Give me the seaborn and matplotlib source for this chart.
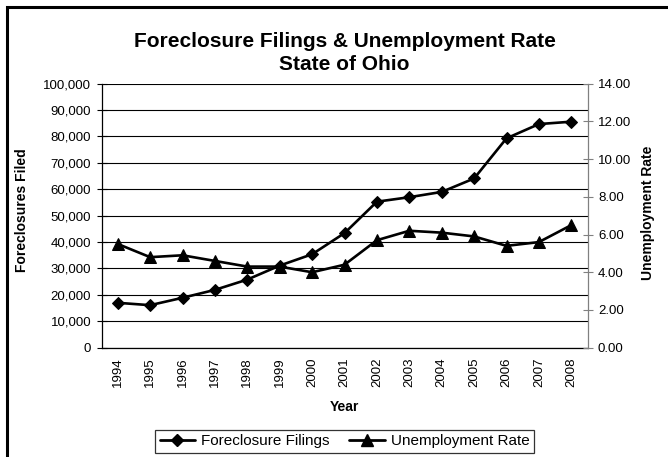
import matplotlib
matplotlib.use("Agg")
import matplotlib.pyplot as plt
import seaborn as sns
import pandas as pd
from matplotlib.ticker import FuncFormatter, MultipleLocator, FixedLocator
from matplotlib.lines import Line2D
from matplotlib.patches import Rectangle

years = list(range(1994, 2009))
foreclosures = [17000, 16100, 18900, 21900, 25800, 31100, 35400, 43400,
                55300, 57000, 59000, 64100, 79300, 84700, 85600]
unemployment = [5.5, 4.8, 4.9, 4.6, 4.3, 4.3, 4.0, 4.4,
                5.7, 6.2, 6.1, 5.9, 5.4, 5.6, 6.5]

sns.set_theme(style="white")
plt.rcParams["font.family"] = ["Liberation Sans", "DejaVu Sans"]
plt.rcParams.update({
    "text.color": "black", "axes.labelcolor": "black",
    "xtick.color": "black", "ytick.color": "black",
    "axes.edgecolor": "black",
})

df = pd.DataFrame({"Year": years, "Foreclosures": foreclosures,
                   "Unemployment": unemployment})

fig = plt.figure(figsize=(6.68, 4.57), dpi=100)
ax = fig.add_axes([0.152, 0.2392, 0.7275, 0.5777])
ax2 = ax.twinx()

sns.lineplot(data=df, x="Year", y="Foreclosures", ax=ax, color="black",
             lw=1.9, marker="D", markersize=6.5, markeredgecolor="black",
             markerfacecolor="black", legend=False, zorder=3)
sns.lineplot(data=df, x="Year", y="Unemployment", ax=ax2, color="black",
             lw=1.9, marker="^", markersize=8.5, markeredgecolor="black",
             markerfacecolor="black", legend=False, zorder=3)

# category-style x axis: labels at centres, tick marks between years
ax.set_xlim(years[0] - 0.5, years[-1] + 0.5)
ax.xaxis.set_major_locator(FixedLocator(years))
ax.set_xticklabels([str(y) for y in years], rotation=90, fontsize=9.5)
ax.xaxis.set_minor_locator(FixedLocator([y - 0.5 for y in years] + [years[-1] + 0.5]))
ax.tick_params(axis="x", which="major", length=0, pad=7)
ax.tick_params(axis="x", which="minor", direction="inout", length=8, width=0.8)

# left axis
ax.set_ylim(0, 100000)
ax.yaxis.set_major_locator(MultipleLocator(10000))
ax.yaxis.set_major_formatter(FuncFormatter(lambda v, p: f"{int(v):,}"))
ax.tick_params(axis="y", direction="inout", length=7, width=0.8,
               labelsize=9.5, pad=4)
ax.yaxis.grid(True, color="black", lw=0.8)
ax.set_axisbelow(True)

# right axis
ax2.set_ylim(0, 14)
ax2.yaxis.set_major_locator(MultipleLocator(2))
ax2.yaxis.set_major_formatter(FuncFormatter(lambda v, p: f"{v:.2f}"))
ax2.tick_params(axis="y", direction="inout", length=7, width=0.8,
                labelsize=9.5, pad=4, color="#808080")

for s in ("top",):
    ax.spines[s].set_visible(False)
    ax2.spines[s].set_visible(False)
ax.spines["right"].set_visible(False)
ax2.spines["left"].set_visible(False)
ax2.spines["bottom"].set_visible(False)
ax.spines["left"].set_linewidth(0.9)
ax.spines["bottom"].set_linewidth(0.9)
ax2.spines["right"].set_color("#808080")
ax2.spines["right"].set_linewidth(0.9)

ax.set_xlabel("Year", fontsize=10, fontweight="bold")
ax.xaxis.set_label_coords(0.5, -0.2246)
ax.xaxis.label.set_va("center")
ax.set_ylabel("Foreclosures Filed", fontsize=10, fontweight="bold")
ax.yaxis.set_label_coords(-0.1636, 0.52)
ax.yaxis.label.set_va("center")
ax2.set_ylabel("Unemployment Rate", fontsize=10, fontweight="bold", rotation=90)
ax2.yaxis.set_label_coords(1.1245, 0.51)
ax2.yaxis.label.set_va("center")

ax.set_title("Foreclosure Filings & Unemployment Rate\nState of Ohio",
             fontsize=15, fontweight="bold", pad=10, linespacing=1.25)

handles = [
    Line2D([], [], color="black", lw=2, marker="D", markersize=6),
    Line2D([], [], color="black", lw=2, marker="^", markersize=8),
]
leg = fig.legend(handles, ["Foreclosure Filings", "Unemployment Rate"],
                 loc="center", bbox_to_anchor=(0.516, 0.034), ncol=2,
                 fontsize=11, frameon=True, fancybox=False,
                 edgecolor="black", handlelength=2.3, handletextpad=0.4,
                 columnspacing=1.3, borderpad=0.3)
leg.get_frame().set_linewidth(0.9)

# outer chart border
fig.patches.append(Rectangle((7 / 668, -0.2), 2, 1.2 - 7 / 457,
                             transform=fig.transFigure, fill=False,
                             lw=2.2, ec="black"))

fig.savefig("out.png", dpi=100)
